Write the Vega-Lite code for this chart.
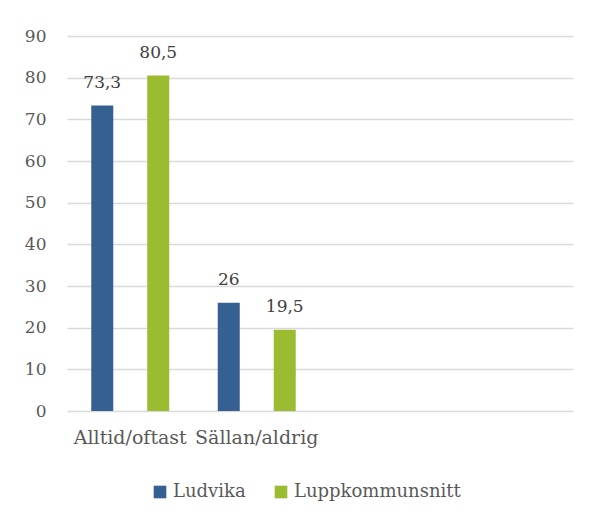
{
  "$schema": "https://vega.github.io/schema/vega-lite/v6.json",
  "width": 506,
  "height": 375,
  "autosize": "none",
  "padding": {"left": 67, "top": 36, "right": 24, "bottom": 113},
  "background": "white",
  "config": {
    "view": {"stroke": null},
    "font": "DejaVu Serif",
    "locale": {"number": {"decimal": ",", "thousands": " ", "grouping": [3], "currency": ["", " kr"]}}
  },
  "data": {
    "values": [
      {"kategori": "Alltid/oftast", "serie": "Ludvika", "varde": 73.3},
      {"kategori": "Alltid/oftast", "serie": "Luppkommunsnitt", "varde": 80.5},
      {"kategori": "Sällan/aldrig", "serie": "Ludvika", "varde": 26},
      {"kategori": "Sällan/aldrig", "serie": "Luppkommunsnitt", "varde": 19.5}
    ]
  },
  "encoding": {
    "x": {
      "field": "kategori",
      "type": "nominal",
      "sort": null,
      "scale": {"domain": ["Alltid/oftast", "Sällan/aldrig", "tom1", "tom2"], "paddingInner": 0, "paddingOuter": 0},
      "axis": {
        "title": null,
        "labelAngle": 0,
        "domain": false,
        "ticks": false,
        "labelPadding": 17,
        "labelFont": "DejaVu Serif",
        "labelFontSize": 19,
        "labelColor": "#595959",
        "labelBaseline": "top",
        "labelExpr": "indexof(['Alltid/oftast','Sällan/aldrig'], datum.value) >= 0 ? datum.value : ''"
      }
    },
    "xOffset": {
      "field": "serie",
      "type": "nominal",
      "scale": {"domain": ["Ludvika", "Luppkommunsnitt"], "paddingInner": 0.607, "paddingOuter": 0.433}
    },
    "y": {
      "field": "varde",
      "type": "quantitative",
      "scale": {"domain": [0, 90], "nice": false},
      "axis": {
        "title": null,
        "values": [0, 10, 20, 30, 40, 50, 60, 70, 80, 90],
        "domain": false,
        "ticks": false,
        "labelPadding": 21,
        "labelFont": "DejaVu Serif",
        "labelFontSize": 17,
        "labelColor": "#595959",
        "gridColor": "#d9d9d9",
        "gridWidth": 1.3
      }
    }
  },
  "layer": [
    {
      "mark": {"type": "bar"},
      "encoding": {
        "color": {
          "field": "serie",
          "type": "nominal",
          "scale": {"domain": ["Ludvika", "Luppkommunsnitt"], "range": ["#376092", "#9bbb30"]},
          "legend": {
            "title": null,
            "orient": "none",
            "direction": "horizontal",
            "legendX": 84,
            "legendY": 447,
            "padding": 0,
            "symbolType": "square",
            "symbolSize": 160,
            "symbolStrokeWidth": 0,
            "labelFont": "DejaVu Serif",
            "labelFontSize": 18,
            "labelLimit": 400,
            "labelColor": "#595959",
            "labelOffset": 4,
            "columnPadding": 26
          }
        }
      }
    },
    {
      "mark": {"type": "text", "baseline": "alphabetic", "dy": -18, "fontSize": 17, "font": "DejaVu Serif", "color": "#404040"},
      "encoding": {
        "text": {"field": "varde", "type": "quantitative", "format": ".1~f"}
      }
    }
  ]
}
